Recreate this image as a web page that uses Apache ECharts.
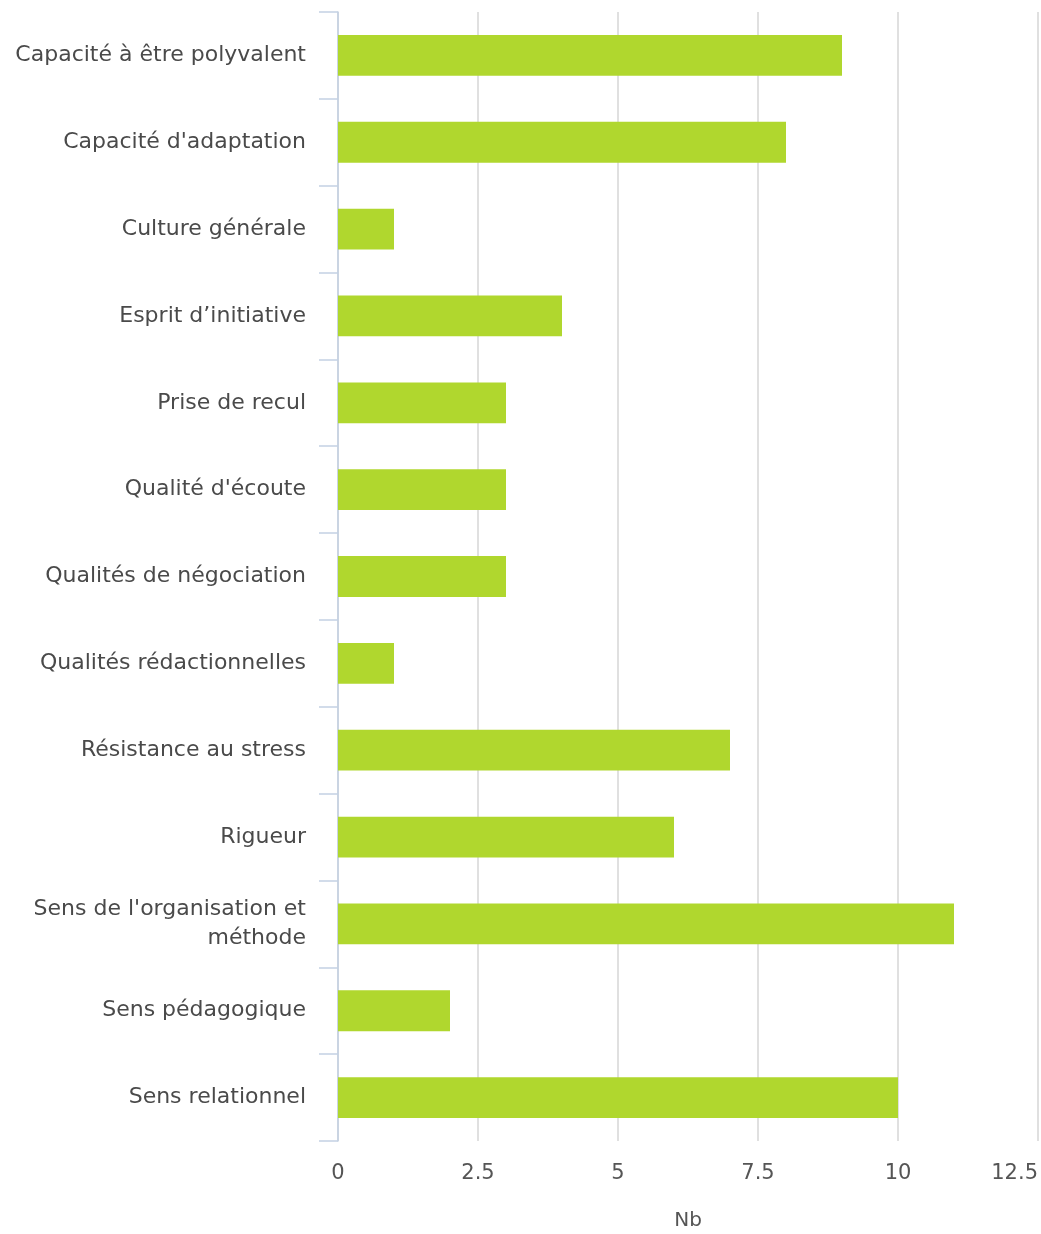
<!DOCTYPE html>
<html>
<head>
<meta charset="utf-8">
<script src="https://cdn.jsdelivr.net/npm/echarts@6/dist/echarts.min.js"></script>
<style>
  html, body { margin: 0; padding: 0; background: #fff; }
  #chart { width: 1041px; height: 1234px; }
</style>
</head>
<body>
<div id="chart"></div>
<script>
const categories = [
  'Capacité à être polyvalent',
  "Capacité d'adaptation",
  'Culture générale',
  'Esprit d’initiative',
  'Prise de recul',
  "Qualité d'écoute",
  'Qualités de négociation',
  'Qualités rédactionnelles',
  'Résistance au stress',
  'Rigueur',
  "Sens de l'organisation et\nméthode",
  'Sens pédagogique',
  'Sens relationnel'
];
const values = [9, 8, 1, 4, 3, 3, 3, 1, 7, 6, 11, 2, 10];

const chart = echarts.init(document.getElementById('chart'));

chart.setOption({
  animation: false,
  textStyle: { fontFamily: 'DejaVu Sans' },
  grid: { left: 338, right: 3, top: 12, bottom: 93, containLabel: false, outerBoundsMode: 'none' },
  xAxis: {
    type: 'value',
    min: 0,
    max: 12.5,
    interval: 2.5,
    name: 'Nb',
    nameLocation: 'middle',
    nameGap: 70,
    nameTextStyle: { color: '#555', fontSize: 20 },
    axisLine: { show: false },
    axisTick: { show: false },
    axisLabel: { color: '#555', fontSize: 21, margin: 22, alignMaxLabel: 'right' },
    splitLine: { lineStyle: { color: '#d6d6d6', width: 1.5 } }
  },
  yAxis: {
    type: 'category',
    inverse: true,
    data: categories,
    axisLine: { lineStyle: { color: '#c3d1e3', width: 1.5 } },
    axisTick: { show: true, length: 19, lineStyle: { color: '#c3d1e3', width: 1.5 } },
    axisLabel: { color: '#4a4a4a', fontSize: 22, margin: 32, lineHeight: 29 }
  },
  series: [{
    type: 'bar',
    data: values,
    barWidth: '47%',
    itemStyle: { color: '#b0d72e' }
  }]
});
</script>
</body>
</html>
